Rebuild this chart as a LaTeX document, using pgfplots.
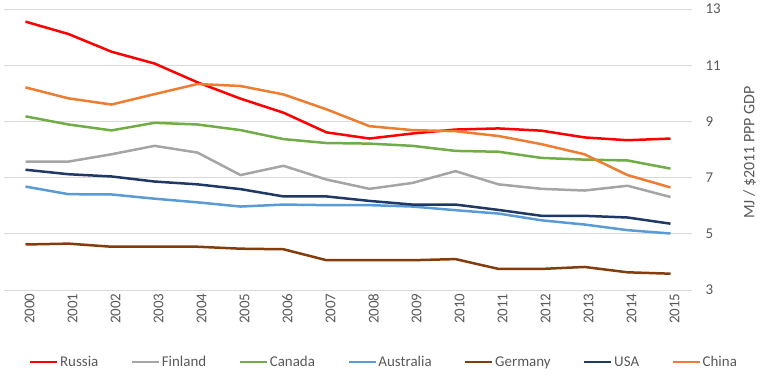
\documentclass[border=0pt]{standalone}
\usepackage{fontspec}
\setmainfont{Carlito}
\usepackage{pgfplots}
\pgfplotsset{compat=1.18}
\definecolor{cRussia}{HTML}{FF0000}
\definecolor{cFinland}{HTML}{A5A5A5}
\definecolor{cCanada}{HTML}{70AD47}
\definecolor{cAustralia}{HTML}{5B9BD5}
\definecolor{cGermany}{HTML}{843C0C}
\definecolor{cUSA}{HTML}{203864}
\definecolor{cChina}{HTML}{ED7D31}
\definecolor{txt}{HTML}{595959}
\definecolor{gridc}{HTML}{D9D9D9}
\begin{document}
\begin{tikzpicture}
\begin{axis}[
  name=ax,
  scale only axis,
  width=688bp, height=281bp,
  xmin=-0.5, xmax=15.5,
  ymin=3, ymax=13,
  ytick={3,5,7,9,11,13},
  xtick={0,...,15},
  xticklabels={2000,2001,2002,2003,2004,2005,2006,2007,2008,2009,2010,2011,2012,2013,2014,2015},
  ymajorgrids,
  grid style={gridc, line width=0.8bp},
  axis line style={draw=none},
  tick style={draw=none},
  yticklabel pos=right,
  /pgf/number format/assume math mode=true,
  ticklabel style={font=\fontsize{15}{18}\selectfont, text=txt},
  yticklabel style={anchor=west, xshift=10bp},
  xticklabel style={rotate=90, anchor=east, yshift=-4bp},
  ylabel={MJ / \$2011 PPP GDP},
  ylabel style={at={(axis description cs:1.084,0.489)}, anchor=center, font=\fontsize{16}{19}\selectfont, text=txt},
  legend columns=7,
  legend style={at={(axis description cs:0.552,-0.256)}, anchor=center, draw=none, fill=none,
    font=\fontsize{15}{18}\selectfont, text=txt,
    nodes={inner sep=1.5bp},
    /tikz/every even column/.append style={column sep=31bp}},
  legend image code/.code={\draw[#1] (0bp,0bp) -- (27bp,0bp);},
  every axis plot/.append style={line width=2.5bp, no markers, line join=round},
]
\addplot[cRussia] coordinates {(0,12.55)(1,12.11)(2,11.48)(3,11.06)(4,10.39)(5,9.81)(6,9.31)(7,8.61)(8,8.39)(9,8.57)(10,8.71)(11,8.75)(12,8.67)(13,8.43)(14,8.33)(15,8.39)};
\addlegendentry{Russia}
\addplot[cFinland] coordinates {(0,7.57)(1,7.57)(2,7.83)(3,8.13)(4,7.89)(5,7.09)(6,7.42)(7,6.93)(8,6.60)(9,6.81)(10,7.23)(11,6.76)(12,6.60)(13,6.54)(14,6.71)(15,6.31)};
\addlegendentry{Finland}
\addplot[cCanada] coordinates {(0,9.18)(1,8.89)(2,8.68)(3,8.95)(4,8.89)(5,8.69)(6,8.37)(7,8.23)(8,8.21)(9,8.13)(10,7.95)(11,7.92)(12,7.70)(13,7.64)(14,7.61)(15,7.32)};
\addlegendentry{Canada}
\addplot[cAustralia] coordinates {(0,6.68)(1,6.41)(2,6.40)(3,6.25)(4,6.12)(5,5.97)(6,6.04)(7,6.02)(8,6.02)(9,5.97)(10,5.84)(11,5.72)(12,5.48)(13,5.33)(14,5.13)(15,5.01)};
\addlegendentry{Australia}
\addplot[cGermany] coordinates {(0,4.62)(1,4.65)(2,4.54)(3,4.54)(4,4.54)(5,4.47)(6,4.45)(7,4.06)(8,4.06)(9,4.06)(10,4.10)(11,3.75)(12,3.75)(13,3.82)(14,3.63)(15,3.58)};
\addlegendentry{Germany}
\addplot[cUSA] coordinates {(0,7.28)(1,7.12)(2,7.04)(3,6.86)(4,6.76)(5,6.59)(6,6.33)(7,6.33)(8,6.17)(9,6.04)(10,6.04)(11,5.85)(12,5.64)(13,5.64)(14,5.58)(15,5.36)};
\addlegendentry{USA}
\addplot[cChina] coordinates {(0,10.21)(1,9.82)(2,9.60)(3,9.97)(4,10.33)(5,10.26)(6,9.96)(7,9.43)(8,8.83)(9,8.69)(10,8.65)(11,8.48)(12,8.19)(13,7.83)(14,7.09)(15,6.65)};
\addlegendentry{China}
\coordinate (sw) at (rel axis cs:0,0);
\coordinate (ne) at (rel axis cs:1,1);
\end{axis}
\pgfresetboundingbox
\path ([shift={(-4bp,-92bp)}]sw) rectangle ([shift={(75bp,9bp)}]ne);
\end{tikzpicture}
\end{document}
